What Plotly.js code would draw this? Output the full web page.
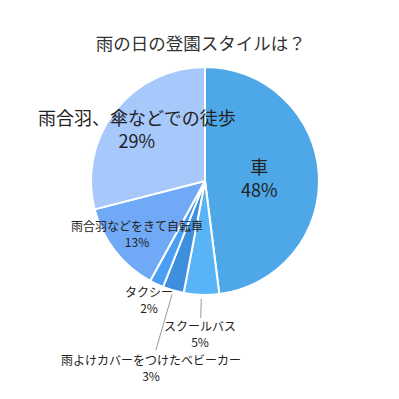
<!DOCTYPE html>
<html>
<head>
<meta charset="utf-8">
<script src="https://cdn.plot.ly/plotly-3.0.1.min.js"></script>
<style>html,body{margin:0;padding:0;background:#fff;}#chart{width:399px;height:399px;}</style>
</head>
<body>
<div id="chart"></div>
<script>
const categories = ['車', 'スクールバス', '雨よけカバーをつけたベビーカー', 'タクシー', '雨合羽などをきて自転車', '雨合羽、傘などでの徒歩'];
const values = [48, 5, 3, 2, 13, 29];
const colors = ['#4ea8e8', '#58b3f7', '#3f8fdf', '#4a9ff5', '#70a9f6', '#a6c8fa'];
const chartTitle = '雨の日の登園スタイルは？';

// layout geometry (pixels)
const W = 399, H = 399;
const cx = 205, cy = 181, R = 114;
const labelR = [55, 153, 194, 131, 86, 86];
const labelSize = [18, 12, 12, 12, 12, 18];
const leader = [null, [118, 137], [118, 176], null, null, null];

const total = values.reduce((a, b) => a + b, 0);
const annotations = [];
const shapes = [];
let cum = 0;
values.forEach((v, i) => {
  const mid = (cum + v / 2) / total * 2 * Math.PI;
  cum += v;
  const dx = Math.sin(mid), dy = Math.cos(mid);
  const px = cx + dx * labelR[i], py = cy - dy * labelR[i];
  const pct = Math.round(v / total * 100) + '%';
  annotations.push({
    x: px / W, y: 1 - py / H, xref: 'paper', yref: 'paper',
    xanchor: 'center', yanchor: 'middle', showarrow: false,
    text: categories[i] + '<br>' + pct,
    font: {family: 'Noto Sans CJK JP', size: labelSize[i], color: '#222'}
  });
  if (leader[i]) {
    const [r0, r1] = leader[i];
    shapes.push({
      type: 'line', xref: 'paper', yref: 'paper',
      x0: (cx + dx * r0) / W, y0: 1 - (cy - dy * r0) / H,
      x1: (cx + dx * r1) / W, y1: 1 - (cy - dy * r1) / H,
      line: {color: '#999', width: 1}
    });
  }
});

const data = [{
  type: 'pie',
  labels: categories,
  values: values,
  sort: false,
  direction: 'clockwise',
  rotation: 0,
  textinfo: 'none',
  hoverinfo: 'label+percent',
  marker: {colors: colors, line: {color: '#ffffff', width: 2}},
  domain: {x: [(cx - R) / W, (cx + R) / W], y: [1 - (cy + R) / H, 1 - (cy - R) / H]}
}];

const layout = {
  width: W, height: H,
  margin: {l: 0, r: 0, t: 0, b: 0},
  showlegend: false,
  paper_bgcolor: '#fff',
  title: {text: chartTitle, x: 0.503, xanchor: 'center', y: 1 - 44 / H, yanchor: 'middle', yref: 'container',
          font: {family: 'Noto Sans CJK JP', size: 17.5, color: '#333'}},
  annotations: annotations,
  shapes: shapes
};

Plotly.newPlot('chart', data, layout, {displayModeBar: false, staticPlot: true});
</script>
</body>
</html>
